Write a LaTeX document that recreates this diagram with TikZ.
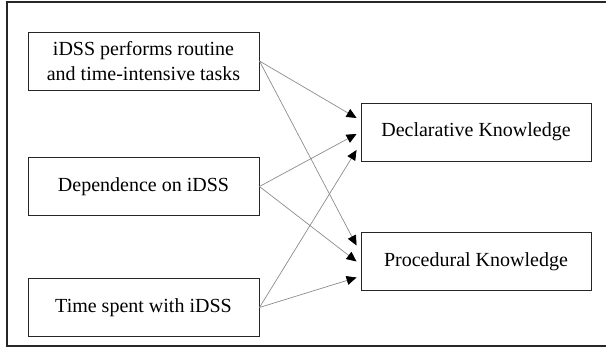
\documentclass[tikz,border=0pt]{standalone}
\usepackage{fontspec}
\setmainfont{Liberation Serif}
\usetikzlibrary{arrows.meta,calc}
\begin{document}
\begin{tikzpicture}[x=1pt,y=1pt,
  box/.style={draw=black!85,line width=0.9pt,fill=white,minimum width=231pt,minimum height=58pt,inner sep=0pt,align=center,font=\fontsize{20}{25}\selectfont},
  conn/.style={draw=black!45,line width=0.7pt,-{Triangle[length=10pt,width=9pt,color=black,fill=black]}}]
\useasboundingbox (0,0) rectangle (606,348);
\draw[line width=2pt,black!85] (620,2) -- (7,2) -- (7,346) -- (620,346);
\node[box] (a) at (143.5,287) {iDSS performs routine\\and time-intensive tasks};
\node[box] (b) at (143.5,161.5) {Dependence on iDSS};
\node[box] (c) at (143.5,40.5) {Time spent with iDSS};
\node[box,minimum width=230pt] (d) at (476,216) {Declarative Knowledge};
\node[box,minimum width=230pt] (p) at (476,86.5) {Procedural Knowledge};
\coordinate (d1) at ($(d.west)+(-4,14)$);
\coordinate (d2) at ($(d.west)+(-4,-2)$);
\coordinate (d3) at ($(d.west)+(-4,-18)$);
\coordinate (p1) at ($(p.west)+(-4,16)$);
\coordinate (p2) at ($(p.west)+(-4,0)$);
\coordinate (p3) at ($(p.west)+(-4,-16)$);
\draw[conn] (a.east) -- (d1);
\draw[conn] (a.east) -- (p1);
\draw[conn] (b.east) -- (d2);
\draw[conn] (b.east) -- (p2);
\draw[conn] (c.east) -- (d3);
\draw[conn] (c.east) -- (p3);
\end{tikzpicture}
\end{document}
